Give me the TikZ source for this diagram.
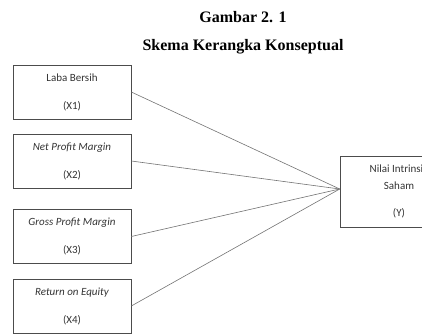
\documentclass[tikz,border=0pt]{standalone}
\usepackage{fontspec}
\setmainfont{Liberation Serif}
\newfontfamily\calibri{Carlito}
\begin{document}
\begin{tikzpicture}[x=1pt,y=-1pt,line width=0.6pt,
  font=\calibri\fontsize{11}{13}\selectfont,
  kotak/.style={draw=black!70,text=black!80,minimum width=118pt,minimum height=54pt,align=center,inner sep=0pt},
  garis/.style={draw=black!55,line width=0.6pt}]
  \useasboundingbox (0,0) rectangle (422,334);

  % judul
  \node[font=\rmfamily\bfseries\fontsize{16}{18}\selectfont] (judul) at (243,17) {Gambar 2. 1};
  \node[font=\rmfamily\bfseries\fontsize{16}{18}\selectfont] (subjudul) at (243,47) {Skema Kerangka Konseptual};

  % variabel X
  \node[kotak] (x1) at (72,92) {Laba Bersih\\[15pt](X1)};
  \node[kotak] (x2) at (72,161) {\textit{Net Profit Margin}\\[15pt](X2)};
  \node[kotak] (x3) at (72,236.5) {\textit{Gross Profit Margin}\\[15pt](X3)};
  \node[kotak] (x4) at (72,306) {\textit{Return on Equity}\\[15pt](X4)};

  % variabel Y
  \node[kotak,minimum height=71pt] (y) at (399,191.5) {Nilai Intrinsik\\[4pt]Saham\\[14pt](Y)};
  \coordinate (titik) at ([yshift=2.5pt]y.west);

  % garis penghubung
  \draw[garis] (x1.east) -- (titik);
  \draw[garis] (x2.east) -- (titik);
  \draw[garis] (x3.east) -- (titik);
  \draw[garis] (x4.east) -- (titik);
\end{tikzpicture}
\end{document}
